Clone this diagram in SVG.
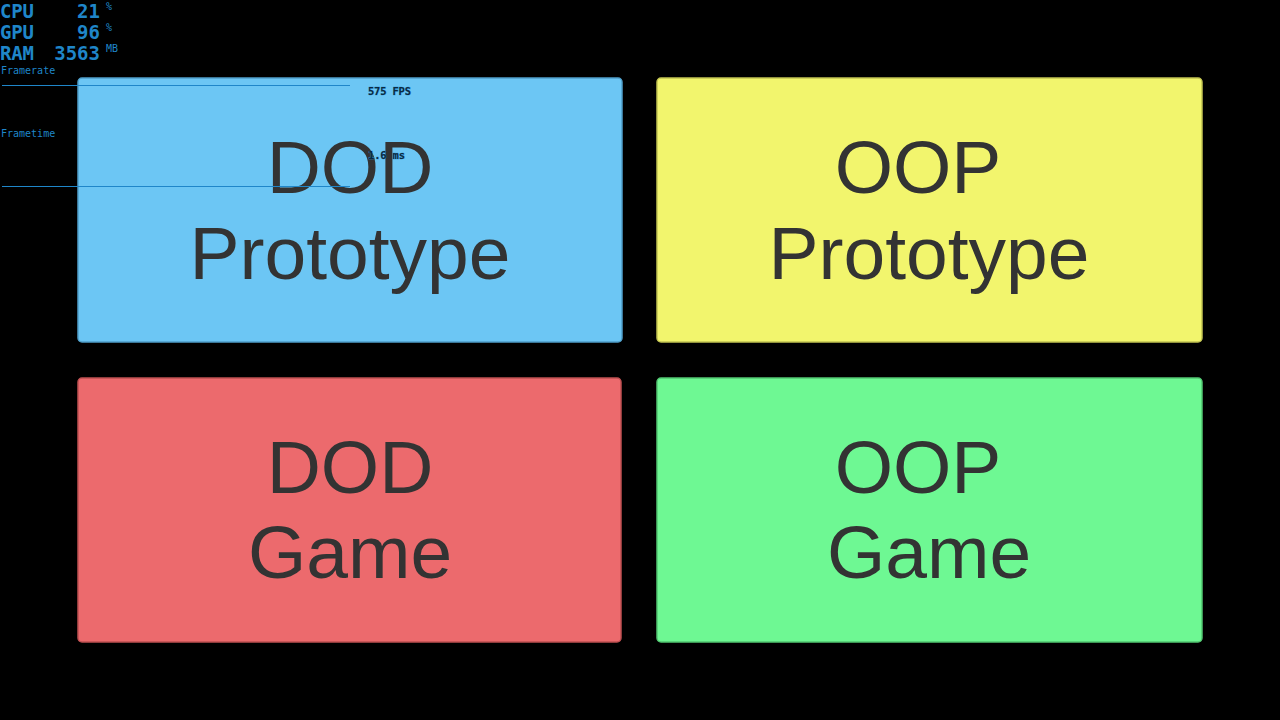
<svg xmlns="http://www.w3.org/2000/svg" width="1280" height="720" viewBox="0 0 1280 720">
<style>
.box{stroke-width:1.5}
.lbl{font-family:"Liberation Sans",Arial,sans-serif;font-size:75px;fill:#333333;text-anchor:middle}
.hud{font-family:"DejaVu Sans Mono","Liberation Mono",monospace;fill:#1f86c9;font-weight:bold}
.hs{font-family:"DejaVu Sans Mono","Liberation Mono",monospace;fill:#1f86c9;font-size:10px}
.val{font-family:"DejaVu Sans Mono","Liberation Mono",monospace;font-size:10.5px;font-weight:bold;fill:#0b2a40;stroke:#2a8fd0;stroke-width:0.6;paint-order:stroke}
</style>
<rect width="1280" height="720" fill="#000000"/>
<g id="dod-prototype">
<rect class="box" x="78" y="78" width="544" height="264" rx="4" fill="#6cc6f4" stroke="#4f9fca"/>
<text class="lbl" x="350" y="193">DOD</text>
<text class="lbl" x="350" y="279">Prototype</text>
</g>
<g id="oop-prototype">
<rect class="box" x="657" y="78" width="545" height="264" rx="4" fill="#f2f56d" stroke="#c2c452"/>
<text class="lbl" x="918" y="193">OOP</text>
<text class="lbl" x="929" y="279">Prototype</text>
</g>
<g id="dod-game">
<rect class="box" x="78" y="378" width="543" height="264" rx="4" fill="#ec6a6d" stroke="#bf5052"/>
<text class="lbl" x="350" y="493">DOD</text>
<text class="lbl" x="350" y="578">Game</text>
</g>
<g id="oop-game">
<rect class="box" x="657" y="378" width="545" height="264" rx="4" fill="#6ef893" stroke="#52c672"/>
<text class="lbl" x="918" y="493">OOP</text>
<text class="lbl" x="929" y="578">Game</text>
</g>
<g id="connectors"></g>
<g id="hud">
<text class="hud" x="0" y="18" font-size="19" textLength="34">CPU</text>
<text class="hud" x="100" y="18" font-size="19" text-anchor="end">21</text>
<text class="hs" x="106" y="10">%</text>
<text class="hud" x="0" y="39" font-size="19" textLength="34">GPU</text>
<text class="hud" x="100" y="39" font-size="19" text-anchor="end">96</text>
<text class="hs" x="106" y="31">%</text>
<text class="hud" x="0" y="60" font-size="19" textLength="34">RAM</text>
<text class="hud" x="100" y="60" font-size="19" text-anchor="end">3563</text>
<text class="hs" x="106" y="52" font-size="8">MB</text>
<text class="hs" x="1" y="74">Framerate</text>
<line x1="2" y1="85.5" x2="350" y2="85.5" stroke="#1f86c9" stroke-width="1"/>
<text class="val" x="368" y="95" textLength="43">575 FPS</text>
<text class="hs" x="1" y="137">Frametime</text>
<text class="val" x="368" y="159" textLength="37">1.6 ms</text>
<line x1="2" y1="186.5" x2="350" y2="186.5" stroke="#1f86c9" stroke-width="1"/>
</g>
</svg>
